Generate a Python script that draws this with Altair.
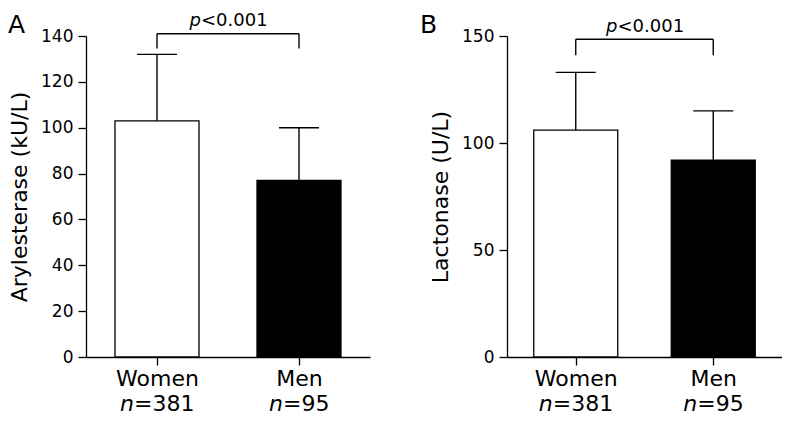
import altair as alt
import pandas as pd

# ---- data ----
groups = ["Women", "Men"]
group_pos = [0, 1]
n_values = ["=381", "=95"]
bar_fills = ["white", "black"]

aryl_mean = [103, 77]
aryl_upper = [132, 100]
aryl_bracket_top = 141
aryl_bracket_low = 134.5

lact_mean = [106, 92]
lact_upper = [133, 115]
lact_bracket_top = 148.5
lact_bracket_low = 141

p_value_text = "<0.001"

FONT = "DejaVu Sans"


def panel(mean, upper, b_top, b_low, ymax, ystep, ytitle, letter, width, height,
          p_dy, letter_dx):
    df = pd.DataFrame({
        "group": groups, "pos": group_pos, "mean": mean, "upper": upper,
        "fill": bar_fills, "n": n_values,
        "low": [b_low] * 2, "top": [b_top] * 2,
    })
    label_expr = "[" + ",".join(f"'{g}'" for g in groups) + "][datum.value]"
    x = alt.X("pos:Q",
              scale=alt.Scale(domain=[-0.5, 1.5], nice=False, zero=False, padding=0),
              axis=alt.Axis(values=group_pos, labelExpr=label_expr, title=None,
                            grid=False, labelFontSize=22, labelPadding=3,
                            tickSize=8))
    y = alt.Y("mean:Q", scale=alt.Scale(domain=[0, ymax], nice=False),
              axis=alt.Axis(values=list(range(0, ymax + 1, ystep)), title=ytitle,
                            grid=False, labelFontSize=17, labelPadding=5,
                            tickSize=8, titleFontSize=22, titlePadding=9))
    base = alt.Chart(df)
    bars = base.mark_bar(size=84, stroke="black", strokeWidth=1.3).encode(
        x=x, y=y, fill=alt.Fill("fill:N", scale=None))
    err = base.mark_rule(color="black", strokeWidth=1.4).encode(
        x="pos:Q", y="mean:Q", y2="upper:Q")
    cap = base.mark_tick(orient="horizontal", size=40, thickness=1.4,
                         color="black", opacity=1).encode(x="pos:Q", y="upper:Q")
    arms = base.mark_rule(color="black", strokeWidth=1.4).encode(
        x="pos:Q", y="low:Q", y2="top:Q")
    br_df = pd.DataFrame({"x": [group_pos[0]], "x2": [group_pos[1]], "y": [b_top],
                          "mid": [(group_pos[0] + group_pos[1]) / 2]})
    br = alt.Chart(br_df).mark_rule(color="black", strokeWidth=1.4).encode(
        x="x:Q", x2="x2:Q", y="y:Q")
    p_it = alt.Chart(br_df).mark_text(
        text="p", font=FONT, fontStyle="italic", fontSize=18, align="right",
        baseline="alphabetic", dx=-27, dy=p_dy, color="black").encode(
        x="mid:Q", y="y:Q")
    p_rest = alt.Chart(br_df).mark_text(
        text=p_value_text, font=FONT, fontSize=18, align="left",
        baseline="alphabetic", dx=-27, dy=p_dy, color="black").encode(
        x="mid:Q", y="y:Q")
    layers = [bars, err, cap, arms, br, p_it, p_rest]
    n_dx = {0: -23, 1: -16}
    for pos in group_pos:
        sub = base.transform_filter(alt.datum.pos == pos)
        layers.append(sub.mark_text(
            text="n", font=FONT, fontStyle="italic", fontSize=22, align="right",
            baseline="alphabetic", dx=n_dx[pos], dy=54, color="black").encode(
            x="pos:Q", y=alt.datum(0)))
        layers.append(sub.mark_text(
            font=FONT, fontSize=22, align="left",
            baseline="alphabetic", dx=n_dx[pos], dy=54, color="black").encode(
            x="pos:Q", y=alt.datum(0), text="n:N"))
    let_df = pd.DataFrame({"t": [letter]})
    let = alt.Chart(let_df).mark_text(
        font=FONT, fontSize=25, align="left", baseline="alphabetic",
        color="black").encode(text="t:N", x=alt.value(letter_dx), y=alt.value(-3))
    layers.append(let)
    return alt.layer(*layers).properties(width=width, height=height)


a = panel(aryl_mean, aryl_upper, aryl_bracket_top, aryl_bracket_low, 140, 20,
          "Arylesterase (kU/L)", "A", 284, 321, -8, -78)
b = panel(lact_mean, lact_upper, lact_bracket_top, lact_bracket_low, 150, 50,
          "Lactonase (U/L)", "B", 275, 321, -7, -87)

chart = alt.hconcat(a, b, spacing=50).properties(
    padding={"top": 3, "left": 0, "right": 0, "bottom": 0}).configure_view(
    stroke=None).configure_axis(
    domainColor="black", domainWidth=1.3, tickColor="black", tickWidth=1.3,
    labelColor="black", titleColor="black", labelFont=FONT, titleFont=FONT,
    titleFontWeight="normal").configure_text(font=FONT)

chart.save("out.html", embed_options={"renderer": "svg", "actions": False})
